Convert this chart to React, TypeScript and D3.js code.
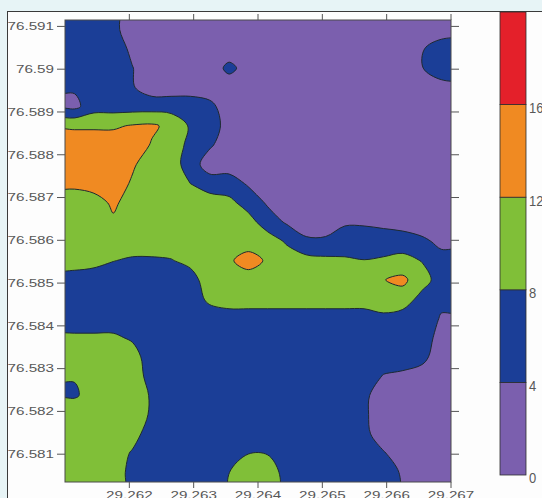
import React, { useEffect, useRef } from "react";
import * as d3 from "d3";

// axis extents: longitude on x, latitude on y
const xExtent = [29.261, 29.267];
const yExtent = [76.58035, 76.59115];

const xTicks = [29.262, 29.263, 29.264, 29.265, 29.266, 29.267];
const xTickLabels = ["29.262", "29.263", "29.264", "29.265", "29.266", "29.267"];
const yTicks = [76.581, 76.582, 76.583, 76.584, 76.585, 76.586, 76.587, 76.588, 76.589, 76.59, 76.591];
const yTickLabels = ["76.581", "76.582", "76.583", "76.584", "76.585", "76.586", "76.587", "76.588", "76.589", "76.59", "76.591"];

// colour bar levels and band colours
const levels = [0, 4, 8, 12, 16, 20];
const levelLabels = ["0", "4", "8", "12", "16"];
const bandColors = ["#7b5fae", "#1b3e97", "#80bf38", "#f08a22", "#e4202a"];

// values, 20 columns (west -> east) x 24 rows (north -> south)
const grid = [
  [6, 6, 5, 2, 2, 2, 2, 2, 2, 2, 2, 2, 2, 2, 2, 2, 2, 2, 2, 2],
  [6, 6, 6, 3.2, 2, 2, 2, 2, 2, 2, 2, 2, 2, 2, 2, 2, 2, 2, 3.7, 6],
  [6, 6, 6, 4.1, 2, 2, 2, 2, 4.9, 2.6, 2, 2, 2, 2, 2, 2, 2, 2, 3.8, 7],
  [4.5, 6, 6, 4.3, 2, 2, 2, 2, 2, 2, 2, 2, 2, 2, 2, 2, 2, 2, 2, 2],
  [3, 6.3, 6.3, 6.3, 6.3, 6.3, 6.3, 5, 2, 2, 2, 2, 2, 2, 2, 2, 2, 2, 2, 2],
  [11.5, 11.5, 11.5, 12.3, 12.6, 11, 7.5, 6.5, 2, 2, 2, 2, 2, 2, 2, 2, 2, 2, 2, 2],
  [14, 14, 14, 14, 11.7, 10, 7, 4.5, 2, 2, 2, 2, 2, 2, 2, 2, 2, 2, 2, 2],
  [14, 14, 14, 12.5, 10, 10, 6, 2, 2, 2, 2, 2, 2, 2, 2, 2, 2, 2, 2, 2],
  [12.8, 14, 14, 11.5, 10, 10, 8, 6, 6, 3.5, 2, 2, 2, 2, 2, 2, 2, 2, 2, 2],
  [10, 10, 12.8, 10, 10, 10, 10, 10, 9, 6.5, 3.5, 2, 2, 2, 2, 2, 2, 2, 2, 2],
  [10, 10, 11.3, 10, 10, 10, 10, 10, 10, 9.5, 6, 3.5, 2.5, 2.5, 3.5, 3.5, 3, 2.7, 2.3, 2],
  [10, 10, 10, 10, 10, 10, 10, 10, 10, 8.6, 10, 7.5, 4.5, 4.5, 6, 6, 6, 5.5, 4.6, 3.3],
  [10, 9.5, 8.1, 7.5, 7.5, 7.8, 9, 10, 11, 15, 11, 10, 9.5, 9, 8.5, 8.1, 8.5, 9.5, 7.8, 5],
  [6, 5.5, 6, 6, 6, 6, 6.5, 10, 10, 8.6, 10, 10, 10, 10, 10, 10, 11.9, 12.8, 9.8, 6],
  [6, 6, 6, 6, 6, 6, 6, 8.8, 10, 10, 10, 10, 10, 10, 10, 10, 10, 10.3, 6.5, 4.8],
  [6, 6, 6, 6, 6, 6, 6, 6, 6, 6, 6, 6, 6, 6, 6, 6, 7.2, 6, 6, 3.7],
  [8.6, 8.6, 8.6, 7.5, 6, 6, 6, 6, 6, 6, 6, 6, 6, 6, 6, 6, 6, 6, 6, 2.5],
  [10, 10, 10, 9.5, 6, 6, 6, 6, 6, 6, 6, 6, 6, 6, 6, 6, 6, 6, 5, 2],
  [8.3, 10, 10, 10, 6.5, 6, 6, 6, 6, 6, 6, 6, 6, 6, 6, 6, 3.8, 3.2, 2.5, 2],
  [7.4, 10, 10, 10, 7.6, 6, 6, 6, 6, 6, 6, 6, 6, 6, 6, 4.8, 2, 2, 2, 2],
  [11.5, 10, 10, 10, 7.5, 6, 6, 6, 6, 6, 6, 6, 6, 6, 6, 4.6, 2, 2, 2, 2],
  [10, 10, 10, 9.5, 6, 6, 6, 6, 6, 6, 6, 6, 6, 6, 6, 5, 2, 2, 2, 2],
  [10, 10, 10, 7.6, 6, 6, 6, 6, 6, 7.9, 7.8, 6, 6, 6, 6, 6, 4.3, 2, 2, 2],
  [10, 10, 10, 6.8, 6, 6, 6, 6, 7.95, 10, 10, 6.6, 6, 6, 6, 6, 6, 3.5, 2, 2],
];

const ContourMap = () => {
  const svgRef = useRef(null);

  useEffect(() => {
    const width = 542;
    const height = 498;
    const plot = { left: 65, right: 451, top: 20, bottom: 482 };
    const bar = { x: 500, w: 26, top: 12, bottom: 475 };
    const labelFont = "'Liberation Sans', Arial, sans-serif";

    const svg = d3.select(svgRef.current);
    svg.selectAll("*").remove();
    svg.attr("width", width).attr("height", height);

    const defs = svg.append("defs");
    defs
      .append("clipPath")
      .attr("id", "panel-clip")
      .append("rect")
      .attr("x", 7.5)
      .attr("y", 11.5)
      .attr("width", width)
      .attr("height", height);
    defs
      .append("clipPath")
      .attr("id", "plot-clip")
      .append("rect")
      .attr("x", plot.left)
      .attr("y", plot.top)
      .attr("width", plot.right - plot.left)
      .attr("height", plot.bottom - plot.top);

    // page + panel
    svg.append("rect").attr("width", width).attr("height", height).attr("fill", "#e7f4f6");
    svg
      .append("rect")
      .attr("x", 7.5)
      .attr("y", 11.5)
      .attr("width", width)
      .attr("height", height)
      .attr("fill", "#fdfdfd")
      .attr("stroke", "#3a3a3a");

    const panel = svg.append("g").attr("clip-path", "url(#panel-clip)");

    const x = d3.scaleLinear().domain(xExtent).range([plot.left, plot.right]);
    const y = d3.scaleLinear().domain(yExtent).range([plot.bottom, plot.top]);

    // contours, grid padded one cell each side so rings close outside the clip
    const ny = grid.length;
    const nx = grid[0].length;
    const clampJ = (j) => Math.max(0, Math.min(ny - 1, j));
    const clampI = (i) => Math.max(0, Math.min(nx - 1, i));
    const padded = [];
    for (let j = -1; j <= ny; j++) {
      for (let i = -1; i <= nx; i++) padded.push(grid[clampJ(j)][clampI(i)]);
    }
    const contours = d3
      .contours()
      .size([nx + 2, ny + 2])
      .thresholds(levels.slice(1, -1))(padded);

    const lonAt = (u) => xExtent[0] + ((u - 1) / nx) * (xExtent[1] - xExtent[0]);
    const latAt = (v) => yExtent[1] - ((v - 1) / ny) * (yExtent[1] - yExtent[0]);
    const lineGen = d3.line().curve(d3.curveCatmullRomClosed.alpha(0.5));

    const ringPath = (ring) => {
      let pts = ring.map(([u, v]) => [x(lonAt(u)), y(latAt(v))]);
      const a = pts[0];
      const b = pts[pts.length - 1];
      if (a[0] === b[0] && a[1] === b[1]) pts = pts.slice(0, -1);
      return lineGen(pts);
    };

    const map = panel.append("g").attr("clip-path", "url(#plot-clip)");
    map
      .append("rect")
      .attr("x", plot.left)
      .attr("y", plot.top)
      .attr("width", plot.right - plot.left)
      .attr("height", plot.bottom - plot.top)
      .attr("fill", bandColors[0]);

    map
      .selectAll("path.band")
      .data(contours)
      .enter()
      .append("path")
      .attr("class", "band")
      .attr("d", (c) => c.coordinates.map((poly) => poly.map(ringPath).join("")).join(""))
      .attr("fill-rule", "evenodd")
      .attr("fill", (_, i) => bandColors[i + 1])
      .attr("stroke", "#1e2a30")
      .attr("stroke-width", 1);

    // frame
    panel
      .append("rect")
      .attr("x", plot.left)
      .attr("y", plot.top)
      .attr("width", plot.right - plot.left)
      .attr("height", plot.bottom - plot.top)
      .attr("fill", "none")
      .attr("stroke", "#4a4a4a");

    // ticks
    const ticks = panel.append("g").attr("stroke", "#555").attr("stroke-width", 1);
    xTicks.forEach((t) => {
      ticks.append("line").attr("x1", x(t)).attr("x2", x(t)).attr("y1", plot.bottom).attr("y2", plot.bottom + 6);
      ticks.append("line").attr("x1", x(t)).attr("x2", x(t)).attr("y1", plot.top).attr("y2", plot.top - 6);
    });
    yTicks.forEach((t) => {
      ticks.append("line").attr("x1", plot.left - 8).attr("x2", plot.left).attr("y1", y(t)).attr("y2", y(t));
      ticks.append("line").attr("x1", plot.right).attr("x2", plot.right + 8).attr("y1", y(t)).attr("y2", y(t));
    });

    // tick labels (stretched wide like the source)
    yTicks.forEach((t, i) => {
      panel
        .append("text")
        .attr("transform", `translate(54,${y(t)}) scale(1.45,1)`)
        .attr("dy", "0.36em")
        .attr("text-anchor", "end")
        .style("font-family", labelFont)
        .style("font-size", "10.5px")
        .style("fill", "#585858")
        .text(yTickLabels[i]);
    });
    xTicks.forEach((t, i) => {
      panel
        .append("text")
        .attr("transform", `translate(${x(t)},499) scale(1.45,1)`)
        .attr("text-anchor", "middle")
        .style("font-family", labelFont)
        .style("font-size", "10.5px")
        .style("fill", "#585858")
        .text(xTickLabels[i]);
    });

    // colour bar
    const cb = d3.scaleLinear().domain([levels[0], levels[levels.length - 1]]).range([bar.bottom, bar.top]);
    panel
      .selectAll("rect.cb")
      .data(bandColors)
      .enter()
      .append("rect")
      .attr("class", "cb")
      .attr("x", bar.x)
      .attr("width", bar.w)
      .attr("y", (_, i) => cb(levels[i + 1]))
      .attr("height", (_, i) => cb(levels[i]) - cb(levels[i + 1]))
      .attr("fill", (d) => d)
      .attr("stroke", "#2e2e2e")
      .attr("stroke-width", 0.8);

    levelLabels.forEach((lab, i) => {
      panel
        .append("text")
        .attr("transform", `translate(529,${cb(levels[i]) + 3}) scale(1,1.15)`)
        .attr("dy", "0.36em")
        .style("font-family", labelFont)
        .style("font-size", "13px")
        .style("fill", "#585858")
        .text(lab);
    });
  }, []);

  return <svg ref={svgRef} style={{ position: "absolute", left: 0, top: 0, display: "block" }}></svg>;
};

export default function App() {
  return <ContourMap />;
}
